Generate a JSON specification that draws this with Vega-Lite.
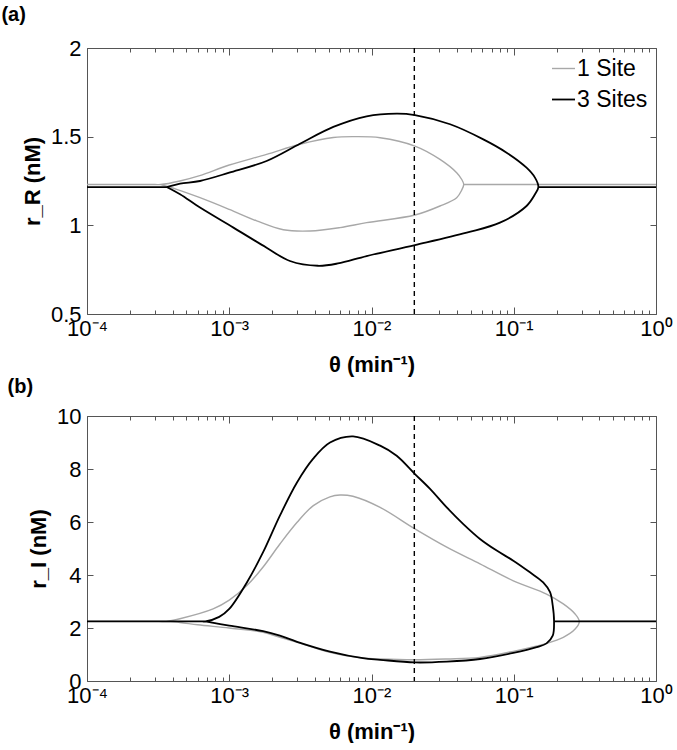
{
  "$schema": "https://vega.github.io/schema/vega-lite/v6.json",
  "padding": {"left": 0, "top": 4, "right": 0, "bottom": 0},
  "background": "white",
  "config": {
    "font": "Liberation Sans",
    "view": {"stroke": "#555555", "strokeWidth": 1},
    "axis": {"labelFont": "Liberation Sans", "labelFontSize": 22, "labelColor": "#000000", "titleFont": "Liberation Sans", "titleFontSize": 22, "titleFontWeight": "bold", "titleColor": "#000000", "grid": false, "domain": false, "tickColor": "#555555", "tickWidth": 1},
    "legend": {"orient": "top-right", "offset": 8, "padding": 0, "labelFont": "Liberation Sans", "labelFontSize": 23, "labelColor": "#000000", "symbolType": "stroke", "symbolSize": 529, "symbolStrokeWidth": 1.6, "labelOffset": 1, "rowPadding": 6, "title": null}
  },
  "datasets": {
    "a": [
      {"theta": 0.0001, "r": 1.23, "series": "1 Site", "branch": "loop", "i": 1},
      {"theta": 0.0003, "r": 1.23, "series": "1 Site", "branch": "loop", "i": 1.5},
      {"theta": 0.00033, "r": 1.23, "series": "1 Site", "branch": "loop", "i": 2},
      {"theta": 0.00045, "r": 1.25, "series": "1 Site", "branch": "loop", "i": 3},
      {"theta": 0.00062, "r": 1.28, "series": "1 Site", "branch": "loop", "i": 4},
      {"theta": 0.001, "r": 1.34, "series": "1 Site", "branch": "loop", "i": 5},
      {"theta": 0.00183, "r": 1.40, "series": "1 Site", "branch": "loop", "i": 6},
      {"theta": 0.00314, "r": 1.457, "series": "1 Site", "branch": "loop", "i": 7},
      {"theta": 0.00539, "r": 1.495, "series": "1 Site", "branch": "loop", "i": 8},
      {"theta": 0.0075, "r": 1.50, "series": "1 Site", "branch": "loop", "i": 9},
      {"theta": 0.0115, "r": 1.494, "series": "1 Site", "branch": "loop", "i": 10},
      {"theta": 0.0202, "r": 1.447, "series": "1 Site", "branch": "loop", "i": 11},
      {"theta": 0.0303, "r": 1.372, "series": "1 Site", "branch": "loop", "i": 12},
      {"theta": 0.0397, "r": 1.297, "series": "1 Site", "branch": "loop", "i": 13},
      {"theta": 0.043, "r": 1.26, "series": "1 Site", "branch": "loop", "i": 14},
      {"theta": 0.0445, "r": 1.23, "series": "1 Site", "branch": "loop", "i": 15},
      {"theta": 0.043, "r": 1.198, "series": "1 Site", "branch": "loop", "i": 16},
      {"theta": 0.0397, "r": 1.156, "series": "1 Site", "branch": "loop", "i": 17},
      {"theta": 0.0303, "r": 1.109, "series": "1 Site", "branch": "loop", "i": 18},
      {"theta": 0.0202, "r": 1.058, "series": "1 Site", "branch": "loop", "i": 19},
      {"theta": 0.00924, "r": 1.015, "series": "1 Site", "branch": "loop", "i": 20},
      {"theta": 0.006, "r": 0.987, "series": "1 Site", "branch": "loop", "i": 21},
      {"theta": 0.0037, "r": 0.968, "series": "1 Site", "branch": "loop", "i": 22},
      {"theta": 0.0024, "r": 0.975, "series": "1 Site", "branch": "loop", "i": 23},
      {"theta": 0.00156, "r": 1.025, "series": "1 Site", "branch": "loop", "i": 24},
      {"theta": 0.001, "r": 1.09, "series": "1 Site", "branch": "loop", "i": 25},
      {"theta": 0.000623, "r": 1.156, "series": "1 Site", "branch": "loop", "i": 26},
      {"theta": 0.000427, "r": 1.203, "series": "1 Site", "branch": "loop", "i": 27},
      {"theta": 0.00033, "r": 1.23, "series": "1 Site", "branch": "loop", "i": 28},
      {"theta": 0.0445, "r": 1.23, "series": "1 Site", "branch": "right", "i": 1},
      {"theta": 1, "r": 1.23, "series": "1 Site", "branch": "right", "i": 2},
      {"theta": 0.0001, "r": 1.216, "series": "3 Sites", "branch": "loop", "i": 1},
      {"theta": 0.00033, "r": 1.216, "series": "3 Sites", "branch": "loop", "i": 1.5},
      {"theta": 0.000363, "r": 1.216, "series": "3 Sites", "branch": "loop", "i": 2},
      {"theta": 0.000451, "r": 1.235, "series": "3 Sites", "branch": "loop", "i": 3},
      {"theta": 0.000623, "r": 1.25, "series": "3 Sites", "branch": "loop", "i": 4},
      {"theta": 0.001, "r": 1.297, "series": "3 Sites", "branch": "loop", "i": 5},
      {"theta": 0.00183, "r": 1.363, "series": "3 Sites", "branch": "loop", "i": 6},
      {"theta": 0.00314, "r": 1.46, "series": "3 Sites", "branch": "loop", "i": 7},
      {"theta": 0.00539, "r": 1.555, "series": "3 Sites", "branch": "loop", "i": 8},
      {"theta": 0.00924, "r": 1.615, "series": "3 Sites", "branch": "loop", "i": 9},
      {"theta": 0.01503, "r": 1.630, "series": "3 Sites", "branch": "loop", "i": 10},
      {"theta": 0.0202, "r": 1.622, "series": "3 Sites", "branch": "loop", "i": 11},
      {"theta": 0.0357, "r": 1.570, "series": "3 Sites", "branch": "loop", "i": 12},
      {"theta": 0.0611, "r": 1.485, "series": "3 Sites", "branch": "loop", "i": 13},
      {"theta": 0.0891, "r": 1.410, "series": "3 Sites", "branch": "loop", "i": 14},
      {"theta": 0.123, "r": 1.325, "series": "3 Sites", "branch": "loop", "i": 15},
      {"theta": 0.141, "r": 1.269, "series": "3 Sites", "branch": "loop", "i": 16},
      {"theta": 0.149, "r": 1.216, "series": "3 Sites", "branch": "loop", "i": 17},
      {"theta": 0.141, "r": 1.175, "series": "3 Sites", "branch": "loop", "i": 18},
      {"theta": 0.123, "r": 1.109, "series": "3 Sites", "branch": "loop", "i": 19},
      {"theta": 0.08, "r": 1.015, "series": "3 Sites", "branch": "loop", "i": 20},
      {"theta": 0.0467, "r": 0.959, "series": "3 Sites", "branch": "loop", "i": 21},
      {"theta": 0.0202, "r": 0.889, "series": "3 Sites", "branch": "loop", "i": 22},
      {"theta": 0.00924, "r": 0.827, "series": "3 Sites", "branch": "loop", "i": 23},
      {"theta": 0.0058, "r": 0.785, "series": "3 Sites", "branch": "loop", "i": 24},
      {"theta": 0.0042, "r": 0.772, "series": "3 Sites", "branch": "loop", "i": 25},
      {"theta": 0.00267, "r": 0.799, "series": "3 Sites", "branch": "loop", "i": 26},
      {"theta": 0.00183, "r": 0.874, "series": "3 Sites", "branch": "loop", "i": 27},
      {"theta": 0.00107, "r": 0.987, "series": "3 Sites", "branch": "loop", "i": 28},
      {"theta": 0.000623, "r": 1.10, "series": "3 Sites", "branch": "loop", "i": 29},
      {"theta": 0.000451, "r": 1.175, "series": "3 Sites", "branch": "loop", "i": 30},
      {"theta": 0.000363, "r": 1.216, "series": "3 Sites", "branch": "loop", "i": 31},
      {"theta": 0.149, "r": 1.216, "series": "3 Sites", "branch": "right", "i": 1},
      {"theta": 1, "r": 1.216, "series": "3 Sites", "branch": "right", "i": 2}
    ],
    "b": [
      {"theta": 0.0001, "r": 2.25, "series": "1 Site", "branch": "loop", "i": 1},
      {"theta": 0.00032, "r": 2.25, "series": "1 Site", "branch": "loop", "i": 1.5},
      {"theta": 0.00036, "r": 2.25, "series": "1 Site", "branch": "loop", "i": 2},
      {"theta": 0.00045, "r": 2.35, "series": "1 Site", "branch": "loop", "i": 3},
      {"theta": 0.00077, "r": 2.72, "series": "1 Site", "branch": "loop", "i": 4},
      {"theta": 0.001, "r": 3.05, "series": "1 Site", "branch": "loop", "i": 5},
      {"theta": 0.00133, "r": 3.6, "series": "1 Site", "branch": "loop", "i": 6},
      {"theta": 0.00173, "r": 4.3, "series": "1 Site", "branch": "loop", "i": 7},
      {"theta": 0.00227, "r": 5.17, "series": "1 Site", "branch": "loop", "i": 8},
      {"theta": 0.003, "r": 5.99, "series": "1 Site", "branch": "loop", "i": 9},
      {"theta": 0.0039, "r": 6.62, "series": "1 Site", "branch": "loop", "i": 10},
      {"theta": 0.0051, "r": 6.95, "series": "1 Site", "branch": "loop", "i": 11},
      {"theta": 0.006, "r": 7.02, "series": "1 Site", "branch": "loop", "i": 12},
      {"theta": 0.0074, "r": 6.97, "series": "1 Site", "branch": "loop", "i": 13},
      {"theta": 0.0115, "r": 6.55, "series": "1 Site", "branch": "loop", "i": 14},
      {"theta": 0.0202, "r": 5.74, "series": "1 Site", "branch": "loop", "i": 15},
      {"theta": 0.0338, "r": 5.05, "series": "1 Site", "branch": "loop", "i": 16},
      {"theta": 0.0579, "r": 4.42, "series": "1 Site", "branch": "loop", "i": 17},
      {"theta": 0.0993, "r": 3.78, "series": "1 Site", "branch": "loop", "i": 18},
      {"theta": 0.17, "r": 3.28, "series": "1 Site", "branch": "loop", "i": 19},
      {"theta": 0.223, "r": 2.91, "series": "1 Site", "branch": "loop", "i": 20},
      {"theta": 0.27, "r": 2.53, "series": "1 Site", "branch": "loop", "i": 21},
      {"theta": 0.289, "r": 2.25, "series": "1 Site", "branch": "loop", "i": 22},
      {"theta": 0.27, "r": 1.96, "series": "1 Site", "branch": "loop", "i": 23},
      {"theta": 0.223, "r": 1.65, "series": "1 Site", "branch": "loop", "i": 24},
      {"theta": 0.17, "r": 1.42, "series": "1 Site", "branch": "loop", "i": 25},
      {"theta": 0.0993, "r": 1.12, "series": "1 Site", "branch": "loop", "i": 26},
      {"theta": 0.0579, "r": 0.89, "series": "1 Site", "branch": "loop", "i": 27},
      {"theta": 0.0338, "r": 0.83, "series": "1 Site", "branch": "loop", "i": 28},
      {"theta": 0.0202, "r": 0.80, "series": "1 Site", "branch": "loop", "i": 29},
      {"theta": 0.0115, "r": 0.83, "series": "1 Site", "branch": "loop", "i": 30},
      {"theta": 0.0087, "r": 0.87, "series": "1 Site", "branch": "loop", "i": 31},
      {"theta": 0.0051, "r": 1.08, "series": "1 Site", "branch": "loop", "i": 32},
      {"theta": 0.003, "r": 1.46, "series": "1 Site", "branch": "loop", "i": 33},
      {"theta": 0.00227, "r": 1.65, "series": "1 Site", "branch": "loop", "i": 34},
      {"theta": 0.00173, "r": 1.84, "series": "1 Site", "branch": "loop", "i": 35},
      {"theta": 0.001, "r": 2.0, "series": "1 Site", "branch": "loop", "i": 36},
      {"theta": 0.0006, "r": 2.12, "series": "1 Site", "branch": "loop", "i": 37},
      {"theta": 0.00045, "r": 2.21, "series": "1 Site", "branch": "loop", "i": 38},
      {"theta": 0.00036, "r": 2.25, "series": "1 Site", "branch": "loop", "i": 39},
      {"theta": 0.289, "r": 2.25, "series": "1 Site", "branch": "right", "i": 1},
      {"theta": 1, "r": 2.25, "series": "1 Site", "branch": "right", "i": 2},
      {"theta": 0.0001, "r": 2.25, "series": "3 Sites", "branch": "loop", "i": 1},
      {"theta": 0.00062, "r": 2.25, "series": "3 Sites", "branch": "loop", "i": 1.5},
      {"theta": 0.00068, "r": 2.25, "series": "3 Sites", "branch": "loop", "i": 2},
      {"theta": 0.00085, "r": 2.42, "series": "3 Sites", "branch": "loop", "i": 3},
      {"theta": 0.001, "r": 2.72, "series": "3 Sites", "branch": "loop", "i": 4},
      {"theta": 0.00133, "r": 3.72, "series": "3 Sites", "branch": "loop", "i": 5},
      {"theta": 0.00173, "r": 4.86, "series": "3 Sites", "branch": "loop", "i": 6},
      {"theta": 0.00227, "r": 6.24, "series": "3 Sites", "branch": "loop", "i": 7},
      {"theta": 0.003, "r": 7.5, "series": "3 Sites", "branch": "loop", "i": 8},
      {"theta": 0.00388, "r": 8.38, "series": "3 Sites", "branch": "loop", "i": 9},
      {"theta": 0.00511, "r": 9.0, "series": "3 Sites", "branch": "loop", "i": 10},
      {"theta": 0.00742, "r": 9.23, "series": "3 Sites", "branch": "loop", "i": 11},
      {"theta": 0.0115, "r": 8.88, "series": "3 Sites", "branch": "loop", "i": 12},
      {"theta": 0.01503, "r": 8.50, "series": "3 Sites", "branch": "loop", "i": 13},
      {"theta": 0.0202, "r": 7.81, "series": "3 Sites", "branch": "loop", "i": 14},
      {"theta": 0.0258, "r": 7.25, "series": "3 Sites", "branch": "loop", "i": 15},
      {"theta": 0.0338, "r": 6.55, "series": "3 Sites", "branch": "loop", "i": 16},
      {"theta": 0.0442, "r": 5.92, "series": "3 Sites", "branch": "loop", "i": 17},
      {"theta": 0.0579, "r": 5.36, "series": "3 Sites", "branch": "loop", "i": 18},
      {"theta": 0.0759, "r": 4.92, "series": "3 Sites", "branch": "loop", "i": 19},
      {"theta": 0.0993, "r": 4.54, "series": "3 Sites", "branch": "loop", "i": 20},
      {"theta": 0.13, "r": 4.10, "series": "3 Sites", "branch": "loop", "i": 21},
      {"theta": 0.161, "r": 3.72, "series": "3 Sites", "branch": "loop", "i": 22},
      {"theta": 0.18, "r": 3.35, "series": "3 Sites", "branch": "loop", "i": 23},
      {"theta": 0.188, "r": 2.84, "series": "3 Sites", "branch": "loop", "i": 24},
      {"theta": 0.192, "r": 2.25, "series": "3 Sites", "branch": "loop", "i": 25},
      {"theta": 0.188, "r": 1.71, "series": "3 Sites", "branch": "loop", "i": 26},
      {"theta": 0.17, "r": 1.42, "series": "3 Sites", "branch": "loop", "i": 27},
      {"theta": 0.145, "r": 1.28, "series": "3 Sites", "branch": "loop", "i": 28},
      {"theta": 0.0993, "r": 1.06, "series": "3 Sites", "branch": "loop", "i": 29},
      {"theta": 0.0579, "r": 0.83, "series": "3 Sites", "branch": "loop", "i": 30},
      {"theta": 0.0338, "r": 0.73, "series": "3 Sites", "branch": "loop", "i": 31},
      {"theta": 0.0202, "r": 0.70, "series": "3 Sites", "branch": "loop", "i": 32},
      {"theta": 0.0115, "r": 0.80, "series": "3 Sites", "branch": "loop", "i": 33},
      {"theta": 0.0087, "r": 0.86, "series": "3 Sites", "branch": "loop", "i": 34},
      {"theta": 0.00511, "r": 1.11, "series": "3 Sites", "branch": "loop", "i": 35},
      {"theta": 0.003, "r": 1.48, "series": "3 Sites", "branch": "loop", "i": 36},
      {"theta": 0.00227, "r": 1.71, "series": "3 Sites", "branch": "loop", "i": 37},
      {"theta": 0.00173, "r": 1.88, "series": "3 Sites", "branch": "loop", "i": 38},
      {"theta": 0.001, "r": 2.09, "series": "3 Sites", "branch": "loop", "i": 39},
      {"theta": 0.00068, "r": 2.25, "series": "3 Sites", "branch": "loop", "i": 40},
      {"theta": 0.192, "r": 2.25, "series": "3 Sites", "branch": "right", "i": 1},
      {"theta": 1, "r": 2.25, "series": "3 Sites", "branch": "right", "i": 2}
    ]
  },
  "spacing": 0,
  "vconcat": [
    {
      "width": 569, "height": 266,
      "title": {"text": "(a)", "anchor": "start", "dx": -20, "fontSize": 20, "fontWeight": "bold", "font": "Liberation Sans", "offset": 12, "color": "#000000"},
      "layer": [
        {
          "data": {"name": "a"},
          "mark": {"type": "line", "interpolate": "catmull-rom"},
          "encoding": {
            "x": {"field": "theta", "type": "quantitative", "scale": {"type": "log", "domain": [0.0001, 1], "nice": false},
              "axis": {"orient": "bottom", "values": [0.0001,0.0002,0.0003,0.0004,0.0005,0.0006,0.0007,0.0008,0.0009,0.001,0.002,0.003,0.004,0.005,0.006,0.007,0.008,0.009,0.01,0.02,0.03,0.04,0.05,0.06,0.07,0.08,0.09,0.1,0.2,0.3,0.4,0.5,0.6,0.7,0.8,0.9,1],
                "labelExpr": "datum.value == 0.0001 ? '10⁻⁴' : datum.value == 0.001 ? '10⁻³' : datum.value == 0.01 ? '10⁻²' : datum.value == 0.1 ? '10⁻¹' : datum.value == 1 ? '10⁰' : ''",
                "labelOverlap": false, "labelFlush": false,
                "tickSize": {"condition": {"test": "datum.value == 0.0001 || datum.value == 0.001 || datum.value == 0.01 || datum.value == 0.1 || datum.value == 1", "value": -7}, "value": -4},
                "labelPadding": 11, "title": "θ (min⁻¹)", "titlePadding": 12}},
            "y": {"field": "r", "type": "quantitative", "scale": {"domain": [0.5, 2], "nice": false, "zero": false},
              "axis": {"orient": "left", "values": [0.5, 1, 1.5, 2], "format": "~r", "tickSize": -6, "labelPadding": 12, "title": "r_R (nM)", "titlePadding": 6}},
            "color": {"field": "series", "type": "nominal", "scale": {"domain": ["1 Site", "3 Sites"], "range": ["#a8a8a8", "#000000"]}, "legend": {"orient": "top-right"}},
            "strokeWidth": {"field": "series", "type": "nominal", "scale": {"domain": ["1 Site", "3 Sites"], "range": [1.4, 1.8]}, "legend": null},
            "detail": {"field": "branch", "type": "nominal"},
            "order": {"field": "i", "type": "quantitative"}
          }
        },
        {
          "data": {"values": [{"theta": 0.02}]},
          "mark": {"type": "rule", "strokeDash": [5, 4], "color": "#000000", "strokeWidth": 1.4},
          "encoding": {
            "x": {"field": "theta", "type": "quantitative",
              "axis": {"orient": "top", "values": [0.0001,0.0002,0.0003,0.0004,0.0005,0.0006,0.0007,0.0008,0.0009,0.001,0.002,0.003,0.004,0.005,0.006,0.007,0.008,0.009,0.01,0.02,0.03,0.04,0.05,0.06,0.07,0.08,0.09,0.1,0.2,0.3,0.4,0.5,0.6,0.7,0.8,0.9,1],
                "labels": false, "title": null,
                "tickSize": {"condition": {"test": "datum.value == 0.0001 || datum.value == 0.001 || datum.value == 0.01 || datum.value == 0.1 || datum.value == 1", "value": -7}, "value": -4}}}
          }
        },
        {
          "data": {"name": "a"},
          "mark": {"type": "point", "opacity": 0},
          "encoding": {
            "x": {"field": "theta", "type": "quantitative", "axis": null},
            "y": {"field": "r", "type": "quantitative", "axis": {"orient": "right", "values": [0.5, 1, 1.5, 2], "labels": false, "title": null, "tickSize": -6}}
          }
        }
      ],
      "resolve": {"axis": {"x": "independent", "y": "independent"}}
    },
    {
      "width": 569, "height": 265,
      "title": {"text": "(b)", "anchor": "start", "dx": -20, "fontSize": 20, "fontWeight": "bold", "font": "Liberation Sans", "offset": 8, "color": "#000000"},
      "layer": [
        {
          "data": {"name": "b"},
          "mark": {"type": "line", "interpolate": "catmull-rom"},
          "encoding": {
            "x": {"field": "theta", "type": "quantitative", "scale": {"type": "log", "domain": [0.0001, 1], "nice": false},
              "axis": {"orient": "bottom", "values": [0.0001,0.0002,0.0003,0.0004,0.0005,0.0006,0.0007,0.0008,0.0009,0.001,0.002,0.003,0.004,0.005,0.006,0.007,0.008,0.009,0.01,0.02,0.03,0.04,0.05,0.06,0.07,0.08,0.09,0.1,0.2,0.3,0.4,0.5,0.6,0.7,0.8,0.9,1],
                "labelExpr": "datum.value == 0.0001 ? '10⁻⁴' : datum.value == 0.001 ? '10⁻³' : datum.value == 0.01 ? '10⁻²' : datum.value == 0.1 ? '10⁻¹' : datum.value == 1 ? '10⁰' : ''",
                "labelOverlap": false, "labelFlush": false,
                "tickSize": {"condition": {"test": "datum.value == 0.0001 || datum.value == 0.001 || datum.value == 0.01 || datum.value == 0.1 || datum.value == 1", "value": -7}, "value": -4},
                "labelPadding": 11, "title": "θ (min⁻¹)", "titlePadding": 12}},
            "y": {"field": "r", "type": "quantitative", "scale": {"domain": [0, 10], "nice": false},
              "axis": {"orient": "left", "values": [0, 2, 4, 6, 8, 10], "format": "~r", "tickSize": -6, "labelPadding": 12, "title": "r_I (nM)", "titlePadding": 6}},
            "color": {"field": "series", "type": "nominal", "scale": {"domain": ["1 Site", "3 Sites"], "range": ["#a8a8a8", "#000000"]}, "legend": {"orient": "top-right"}},
            "strokeWidth": {"field": "series", "type": "nominal", "scale": {"domain": ["1 Site", "3 Sites"], "range": [1.4, 1.8]}, "legend": null},
            "detail": {"field": "branch", "type": "nominal"},
            "order": {"field": "i", "type": "quantitative"}
          }
        },
        {
          "data": {"values": [{"theta": 0.02}]},
          "mark": {"type": "rule", "strokeDash": [5, 4], "color": "#000000", "strokeWidth": 1.4},
          "encoding": {
            "x": {"field": "theta", "type": "quantitative",
              "axis": {"orient": "top", "values": [0.0001,0.0002,0.0003,0.0004,0.0005,0.0006,0.0007,0.0008,0.0009,0.001,0.002,0.003,0.004,0.005,0.006,0.007,0.008,0.009,0.01,0.02,0.03,0.04,0.05,0.06,0.07,0.08,0.09,0.1,0.2,0.3,0.4,0.5,0.6,0.7,0.8,0.9,1],
                "labels": false, "title": null,
                "tickSize": {"condition": {"test": "datum.value == 0.0001 || datum.value == 0.001 || datum.value == 0.01 || datum.value == 0.1 || datum.value == 1", "value": -7}, "value": -4}}}
          }
        },
        {
          "data": {"name": "b"},
          "mark": {"type": "point", "opacity": 0},
          "encoding": {
            "x": {"field": "theta", "type": "quantitative", "axis": null},
            "y": {"field": "r", "type": "quantitative", "axis": {"orient": "right", "values": [0, 2, 4, 6, 8, 10], "labels": false, "title": null, "tickSize": -6}}
          }
        }
      ],
      "resolve": {"axis": {"x": "independent", "y": "independent"}}
    }
  ]
}
